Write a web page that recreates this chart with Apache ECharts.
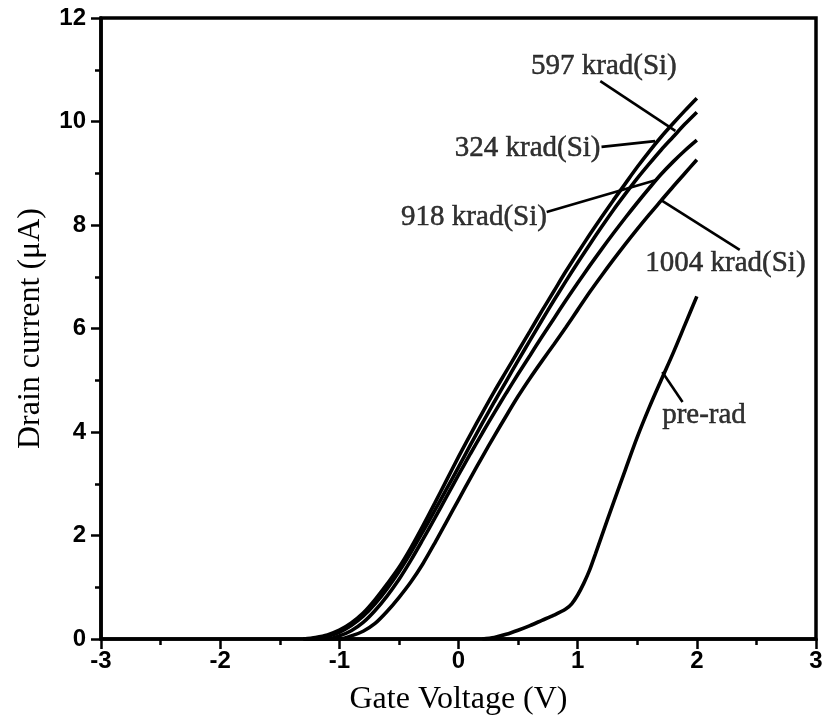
<!DOCTYPE html>
<html>
<head>
<meta charset="utf-8">
<script src="https://cdn.jsdelivr.net/npm/echarts@6/dist/echarts.min.js"></script>
<style>
  html, body { margin: 0; padding: 0; background: #fff; }
  #chart { width: 822px; height: 719px; }
</style>
</head>
<body>
<div id="chart"></div>
<script>
// Gate voltage sweep (V) for the irradiated devices
const vgIrradiated = [-1.3, -1.2, -1.1, -1.0, -0.9, -0.8, -0.7, -0.6, -0.5, -0.4, -0.3, -0.2, -0.1,
  0.0, 0.1, 0.2, 0.3, 0.4, 0.5, 0.6, 0.7, 0.8, 0.9, 1.0, 1.1, 1.2, 1.3, 1.4, 1.5, 1.6, 1.7, 1.8, 1.9, 2.0];

// Drain current (µA) after each total dose
const id324 = [0, 0.03, 0.08, 0.17, 0.31, 0.5, 0.76, 1.06, 1.38, 1.76, 2.18, 2.62, 3.07,
  3.52, 3.95, 4.37, 4.78, 5.17, 5.56, 5.95, 6.34, 6.72, 7.1, 7.46, 7.81, 8.15, 8.48, 8.8, 9.12, 9.42, 9.7, 9.96, 10.21, 10.45];
const id597 = [0, 0, 0.05, 0.13, 0.26, 0.44, 0.68, 0.97, 1.3, 1.67, 2.07, 2.48, 2.9,
  3.32, 3.75, 4.17, 4.58, 4.98, 5.38, 5.77, 6.16, 6.54, 6.91, 7.27, 7.62, 7.96, 8.29, 8.6, 8.9, 9.18, 9.45, 9.7, 9.95, 10.18];
const id918 = [0, 0, 0, 0.06, 0.16, 0.32, 0.55, 0.83, 1.15, 1.52, 1.92, 2.33, 2.75,
  3.17, 3.58, 3.98, 4.37, 4.75, 5.12, 5.48, 5.84, 6.19, 6.54, 6.88, 7.21, 7.53, 7.84, 8.14, 8.43, 8.71, 8.98, 9.22, 9.44, 9.64];
const id1004 = [0, 0, 0, 0, 0.06, 0.15, 0.3, 0.53, 0.8, 1.1, 1.45, 1.85, 2.27,
  2.69, 3.11, 3.52, 3.92, 4.31, 4.69, 5.04, 5.37, 5.69, 6.02, 6.36, 6.7, 7.02, 7.33, 7.63, 7.92, 8.2, 8.47, 8.74, 9.0, 9.26];

// Pre-irradiation sweep
const vgPreRad = [0.2, 0.3, 0.4, 0.5, 0.6, 0.7, 0.8, 0.9, 0.95, 1.0, 1.05, 1.1, 1.15, 1.2, 1.3, 1.4, 1.5, 1.6, 1.7, 1.8, 1.9, 2.0];
const idPreRad = [0, 0.03, 0.09, 0.17, 0.26, 0.36, 0.46, 0.58, 0.68, 0.85, 1.07, 1.33, 1.65, 1.98, 2.63, 3.27, 3.9, 4.47, 5.0, 5.52, 6.07, 6.62];

// Curve annotations: text and its anchor (V, µA)
const noteText = ['597 krad(Si)', '324 krad(Si)', '918 krad(Si)', '1004 krad(Si)', 'pre-rad'];
const noteX = [1.22, 0.58, 0.13, 2.24, 2.06];
const noteY = [11.07, 9.49, 8.14, 7.25, 4.33];

// Leader lines from each annotation to its curve: [start, end]
const leader597 = [[1.19, 10.78], [1.82, 9.82]];
const leader324 = [[1.2, 9.51], [1.65, 9.62]];
const leader918 = [[0.74, 8.25], [1.66, 8.87]];
const leader1004 = [[2.36, 7.52], [1.70, 8.48]];
const leaderPreRad = [[1.88, 4.58], [1.71, 5.16]];

// X and Y tick settings
const xTicks = { min: -3, max: 3, interval: 1 };
const yTicks = { min: 0, max: 12, interval: 2 };

const pair = (xs, ys) => xs.map((x, i) => [x, ys[i]]);

const curveStyle = { color: '#000', width: 3.6 };
const curve = (name, xs, ys) => ({
  name, type: 'line', data: pair(xs, ys), showSymbol: false, symbol: 'none',
  smooth: 0.3, lineStyle: curveStyle, z: 3, silent: true
});
const leader = (name, pts) => ({
  name, type: 'line', data: pts, symbol: 'none', showSymbol: false,
  lineStyle: { color: '#000', width: 2.6 }, z: 4, silent: true
});

const tickFont = { fontFamily: 'Liberation Sans', fontWeight: 'bold', fontSize: 24, color: '#000' };
const titleFont = { fontFamily: 'Liberation Serif', fontSize: 32, color: '#000' };
const axisLine = { show: true, onZero: false, lineStyle: { color: '#000', width: 3.5 } };
const majorTick = { show: true, inside: false, length: 10, lineStyle: { color: '#000', width: 2.5 } };
const minorTick = { show: true, splitNumber: 2, length: 6, lineStyle: { color: '#000', width: 2.5 } };

const chart = echarts.init(document.getElementById('chart'), null, { renderer: 'canvas' });
chart.setOption({
  animation: false,
  backgroundColor: '#fff',
  grid: {
    left: 101, right: 6, top: 18, bottom: 80,
    show: true, borderColor: '#000', borderWidth: 3.5,
    containLabel: false, outerBoundsMode: 'none'
  },
  xAxis: {
    type: 'value', min: xTicks.min, max: xTicks.max, interval: xTicks.interval,
    axisLine, axisTick: majorTick, minorTick,
    splitLine: { show: false },
    axisLabel: { ...tickFont, margin: 10 },
    name: 'Gate Voltage (V)', nameLocation: 'middle', nameGap: 45,
    nameTextStyle: titleFont
  },
  yAxis: {
    type: 'value', min: yTicks.min, max: yTicks.max, interval: yTicks.interval,
    axisLine, axisTick: majorTick, minorTick,
    splitLine: { show: false },
    axisLabel: { ...tickFont, margin: 15 },
    name: 'Drain current (μA)', nameLocation: 'middle', nameGap: 54, nameRotate: 90,
    nameTextStyle: titleFont
  },
  series: [
    curve('324 krad(Si)', vgIrradiated, id324),
    curve('597 krad(Si)', vgIrradiated, id597),
    curve('918 krad(Si)', vgIrradiated, id918),
    curve('1004 krad(Si)', vgIrradiated, id1004),
    curve('pre-rad', vgPreRad, idPreRad),
    leader('leader 597', leader597),
    leader('leader 324', leader324),
    leader('leader 918', leader918),
    leader('leader 1004', leader1004),
    leader('leader pre-rad', leaderPreRad),
    {
      name: 'notes', type: 'scatter', symbolSize: 1, silent: true, z: 5,
      itemStyle: { color: 'rgba(0,0,0,0)' },
      data: noteText.map((t, i) => ({ value: [noteX[i], noteY[i]], name: t })),
      label: {
        show: true, position: 'inside', formatter: p => p.name,
        fontFamily: 'Liberation Serif', fontSize: 29, color: '#000',
        textBorderColor: '#000', textBorderWidth: 0.5
      }
    }
  ]
});
</script>
</body>
</html>
